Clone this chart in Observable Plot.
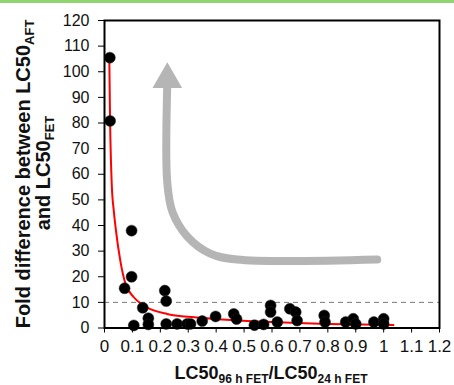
<!DOCTYPE html>
<html><head><meta charset="utf-8">
<script src="https://cdn.jsdelivr.net/npm/d3@7"></script>
<script src="https://cdn.jsdelivr.net/npm/@observablehq/plot@0.6"></script>
<style>
body{margin:0;background:#fff;}
#wrap{position:relative;width:454px;height:385px;overflow:hidden;background:#fff}
#bar{position:absolute;left:0;top:0;width:454px;height:3px;background:#8fd671}
svg{display:block}
</style></head><body><div id="wrap"><div id="bar"></div></div>
<script>
// Scatter data: LC50 ratio (x) vs fold difference (y)
const ratio = [0.019,0.02,0.072,0.097,0.097,0.105,0.137,0.157,0.157,0.216,0.221,0.221,0.26,0.296,0.308,0.35,0.398,0.463,0.473,0.537,0.57,0.595,0.595,0.619,0.664,0.685,0.69,0.787,0.79,0.864,0.891,0.9,0.965,1.0,1.0];
const fold  = [105.5,80.8,15.5,38,20,1,7.9,3.8,1.4,14.6,10.5,1.6,1.6,1.6,1.6,2.7,4.5,5.5,3.5,1.1,1.4,8.8,6.2,2.3,7.5,6.2,2.9,4.9,2.3,2.3,3.6,1.6,2.3,3.6,1.6];
// Red trend curve
const trendX = [0.017,0.02,0.026,0.033,0.04,0.057,0.075,0.105,0.14,0.224,0.344,0.452,0.6,0.8,1.035];
const trendY = [107,81,56,46,39,26,17.3,12,8.8,5.5,4.0,3.1,2.3,1.6,1.2];
// Threshold line
const threshold = [10];
// Grey annotation arrow path (data coordinates)
const arrowX = [0.225,0.225,0.2436,0.298,0.379,0.475,0.977];
const arrowY = [95.5,56.5,45.2,35.5,29.0,26.7,26.7];
const arrowTip = [{x:0.225, y:97}];
// Ticks
const xTickLabels = ["0","0.1","0.2","0.3","0.4","0.5","0.6","0.7","0.8","0.9","1","1.1","1.2"];
const yTickLabels = ["0","10","20","30","40","50","60","70","80","90","100","110","120"];

const xTicks = xTickLabels.map(Number);
const yTicks = yTickLabels.map(Number);
const points = ratio.map((r,i)=>({x:r, y:fold[i]}));
const trend = trendX.map((v,i)=>({x:v, y:trendY[i]}));
const arrowPts = arrowX.map((v,i)=>({x:v, y:arrowY[i]}));

const plot = Plot.plot({
  width:454, height:385,
  marginLeft:104, marginRight:15, marginTop:20, marginBottom:57.5,
  style:{fontFamily:"'Liberation Sans', Arial, sans-serif", background:"transparent", color:"#111", overflow:"visible"},
  x:{domain:[0,1.2]},
  y:{domain:[0,120]},
  marks:[
    Plot.ruleY(threshold, {stroke:"#7a7a7a", strokeDasharray:"5,4", strokeWidth:1}),
    Plot.line(arrowPts, {x:"x", y:"y", stroke:"#b5b5b5", strokeWidth:8, curve:"catmull-rom", strokeLinecap:"round"}),
    Plot.dot(arrowTip, {x:"x", y:"y", symbol:"triangle", r:11, fill:"#b5b5b5", stroke:"none"}),
    Plot.line(trend, {x:"x", y:"y", stroke:"red", strokeWidth:2, curve:"monotone-x"}),
    Plot.dot(points, {x:"x", y:"y", r:5.5, fill:"#000", stroke:"#222", strokeWidth:0.5}),
    Plot.frame({stroke:"#000", strokeWidth:2}),
    Plot.axisX({ticks:xTicks, tickFormat:d=>xTickLabels[xTicks.indexOf(d)], tickSize:5, tickPadding:7, fontSize:17, label:null, stroke:"#000"}),
    Plot.axisY({ticks:yTicks, tickFormat:d=>yTickLabels[yTicks.indexOf(d)], tickSize:6, tickPadding:9, fontSize:16, label:null, stroke:"#000"})
  ]
});
document.getElementById("wrap").appendChild(plot);

const svg = d3.select(plot);
// Y axis title (two lines)
const y1 = svg.append("text").attr("transform","translate(30,174) rotate(-90)")
  .attr("text-anchor","middle").attr("font-weight","bold").attr("font-size",20).attr("fill","#111");
y1.append("tspan").text("Fold difference between LC50");
y1.append("tspan").attr("font-size",13).attr("dy",4).text("AFT");
const y2 = svg.append("text").attr("transform","translate(50,173) rotate(-90)")
  .attr("text-anchor","middle").attr("font-weight","bold").attr("font-size",20).attr("fill","#111");
y2.append("tspan").text("and LC50");
y2.append("tspan").attr("font-size",13).attr("dy",4).text("FET");
// X axis title
const xt = svg.append("text").attr("transform","translate(271,379)")
  .attr("text-anchor","middle").attr("font-weight","bold").attr("font-size",18).attr("fill","#111");
xt.append("tspan").text("LC50");
xt.append("tspan").attr("font-size",12).attr("dy",4).text("96 h FET");
xt.append("tspan").attr("dy",-4).text("/LC50");
xt.append("tspan").attr("font-size",12).attr("dy",4).text("24 h FET");
</script>
</body></html>
